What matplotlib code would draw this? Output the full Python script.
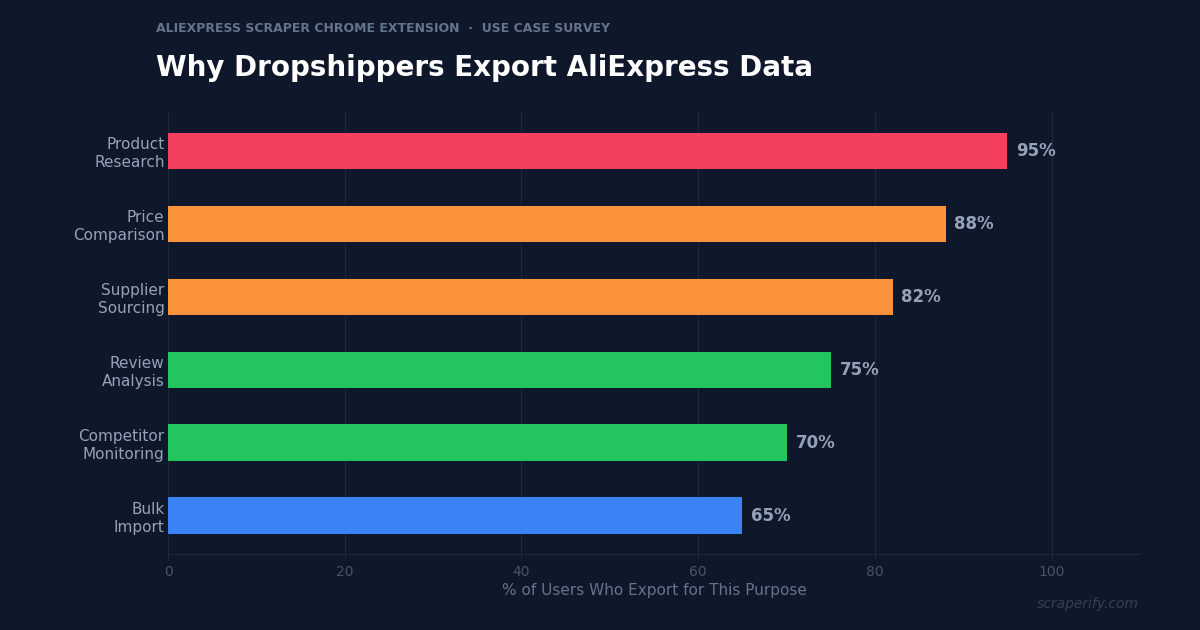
import matplotlib
matplotlib.use('Agg')
import matplotlib.pyplot as plt

categories = ['Product\nResearch', 'Price\nComparison', 'Supplier\nSourcing',
              'Review\nAnalysis', 'Competitor\nMonitoring', 'Bulk\nImport']
values = [95, 88, 82, 75, 70, 65]
colors = ['#f43f5e', '#fb923c', '#fb923c', '#22c55e', '#22c55e', '#3b82f6']

bg = '#0f172a'
fig = plt.figure(figsize=(12, 6.3), dpi=100, facecolor=bg)
ax = fig.add_axes([0.14, 0.12, 0.81, 0.702])
ax.set_facecolor(bg)

ys = list(range(len(categories)))
ax.barh(ys, values, height=0.5, color=colors, zorder=3)
ax.set_yticks(ys)
ax.set_yticklabels(categories)
ax.set_ylim(5.53, -0.53)
ax.set_xlim(0, 110)
ax.set_xticks([0, 20, 40, 60, 80, 100])

for y, v in zip(ys, values):
    ax.text(v + 1, y, f'{v}%', va='center', ha='left', color='#94a3b8',
            fontsize=12, fontweight='bold')

ax.grid(axis='x', color='#1e293b', linewidth=0.8, zorder=0)
for s in ['top', 'right']:
    ax.spines[s].set_visible(False)
ax.spines['left'].set_color('#1e293b')
ax.spines['bottom'].set_color('#1e293b')
ax.tick_params(axis='y', colors='#94a3b8', labelsize=11, length=0, pad=2.5)
ax.tick_params(axis='x', colors='#1e293b', labelcolor='#475569', labelsize=10, length=4)
ax.set_xlabel('% of Users Who Export for This Purpose', color='#64748b', fontsize=11, labelpad=3)

fig.text(0.13, 0.955, 'ALIEXPRESS SCRAPER CHROME EXTENSION  ·  USE CASE SURVEY',
         color='#64748b', fontsize=9, fontweight='bold', va='center')
fig.text(0.13, 0.892, 'Why Dropshippers Export AliExpress Data',
         color='white', fontsize=20, fontweight='bold', va='center')
fig.text(0.949, 0.042, 'scraperify.com', color='#334155', fontsize=10,
         style='italic', ha='right', va='center')

fig.savefig('out.png', dpi=100, facecolor=bg)
